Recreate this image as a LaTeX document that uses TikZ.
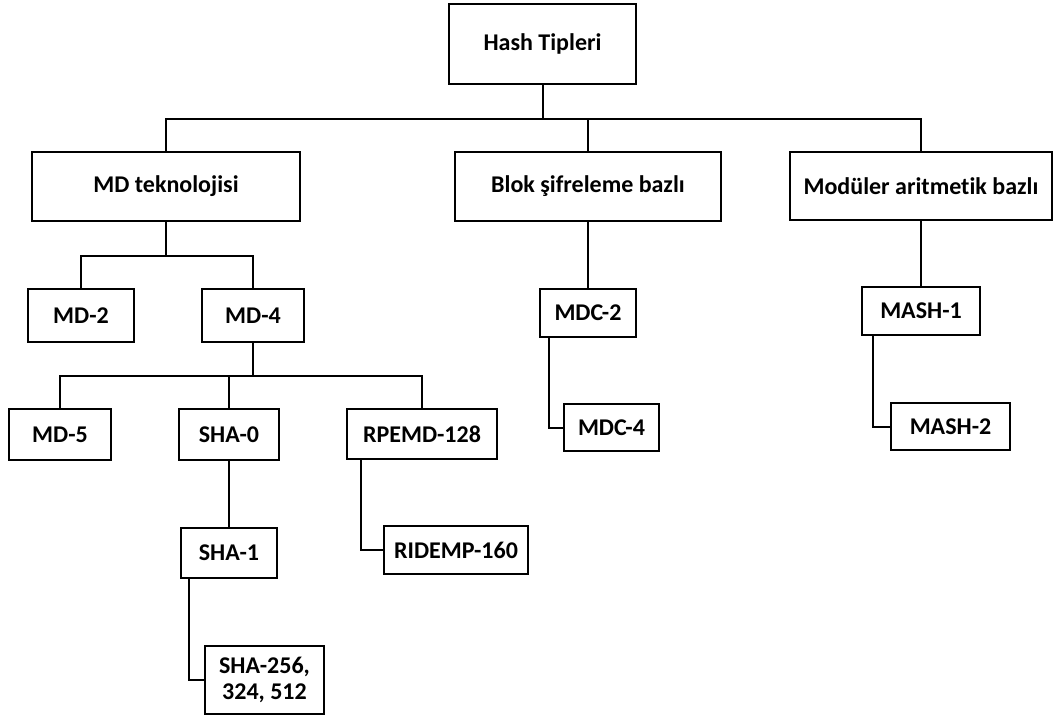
\documentclass[tikz,border=0pt]{standalone}
\usepackage{fontspec}
\setmainfont[Ligatures={NoCommon}]{Carlito}
\usetikzlibrary{calc}
\begin{document}
\begin{tikzpicture}[x=1pt,y=-1pt,
  box/.style={draw, line width=2.2pt, inner sep=0pt, align=center,
    font=\fontsize{24}{30}\selectfont\bfseries},
  conn/.style={line width=2pt}]
\useasboundingbox (0,0) rectangle (1054,720);
\node[box, minimum width=187, minimum height=80] (root) at (542.5,44) {Hash Tipleri};
\node[box, minimum width=268, minimum height=69] (md) at (166,186.5) {MD teknolojisi};
\node[box, minimum width=266, minimum height=69] (blok) at (588,186.5) {Blok şifreleme bazlı};
\node[box, minimum width=262, minimum height=68] (mod) at (921,186) {Modüler aritmetik bazlı};
\node[box, minimum width=106, minimum height=53] (md2) at (81,315.5) {MD-2};
\node[box, minimum width=102, minimum height=53] (md4) at (253,315.5) {MD-4};
\node[box, minimum width=96, minimum height=48] (mdc2) at (588,313) {MDC-2};
\node[box, minimum width=118, minimum height=48] (mash1) at (921,311) {MASH-1};
\node[box, minimum width=102, minimum height=51] (md5) at (60,434.5) {MD-5};
\node[box, minimum width=100, minimum height=51] (sha0) at (229,434.5) {SHA-0};
\node[box, minimum width=150, minimum height=50] (rpemd) at (422,434) {RPEMD-128};
\node[box, minimum width=95, minimum height=47] (mdc4) at (611.5,427.5) {MDC-4};
\node[box, minimum width=119, minimum height=47] (mash2) at (950.5,426.5) {MASH-2};
\node[box, minimum width=96, minimum height=50] (sha1) at (229,553) {SHA-1};
\node[box, minimum width=144, minimum height=48] (ridemp) at (456,550) {RIDEMP-160};
\node[box, minimum width=119, minimum height=68] (sha256) at (264.5,680) {SHA-256,\\[-4pt]324, 512};
% connectors
\coordinate (b1) at ($(root.south)+(0,34)$);
\draw[conn] (root.south) -- (b1) -| (md.north);
\draw[conn] (b1) -| (blok.north);
\draw[conn] (b1) -| (mod.north);
\coordinate (b2) at ($(md.south)+(0,34)$);
\draw[conn] (md.south) -- (b2) -| (md2.north);
\draw[conn] (b2) -| (md4.north);
\coordinate (b3) at ($(md4.south)+(0,33)$);
\draw[conn] (md4.south) -- (b3) -| (md5.north);
\draw[conn] (b3) -| (sha0.north);
\draw[conn] (b3) -| (rpemd.north);
\draw[conn] (blok.south) -- (mdc2.north);
\draw[conn] (mod.south) -- (mash1.north);
\draw[conn] (sha0.south) -- (sha1.north);
\draw[conn] ($(mdc2.south west)+(10,0)$) |- (mdc4.west);
\draw[conn] ($(mash1.south west)+(12,0)$) |- (mash2.west);
\draw[conn] ($(rpemd.south west)+(15,0)$) |- (ridemp.west);
\draw[conn] ($(sha1.south west)+(9,0)$) |- (sha256.west);
\end{tikzpicture}
\end{document}
